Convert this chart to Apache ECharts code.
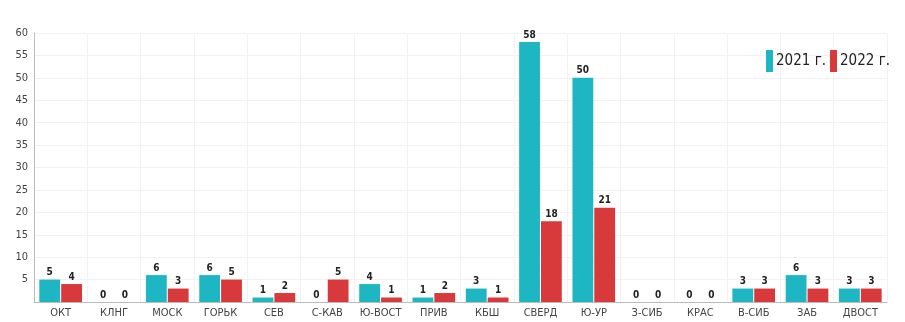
<!DOCTYPE html>
<html><head><meta charset="utf-8">
<script src="https://cdn.jsdelivr.net/npm/echarts@6/dist/echarts.min.js"></script>
<style>html,body{margin:0;padding:0;background:#fff}#c{width:905px;height:322px}</style>
</head><body><div id="c"></div>
<script>
const categories = ['ОКТ','КЛНГ','МОСК','ГОРЬК','СЕВ','С-КАВ','Ю-ВОСТ','ПРИВ','КБШ','СВЕРД','Ю-УР','З-СИБ','КРАС','В-СИБ','ЗАБ','ДВОСТ'];
const values2021 = [5,0,6,6,1,0,4,1,3,58,50,0,0,3,6,3];
const values2022 = [4,0,3,5,2,5,1,2,1,18,21,0,0,3,3,3];
const seriesNames = ['2021 г.','2022 г.'];
const yTicks = {min:0,max:60,interval:5};

const font = '"DejaVu Sans Condensed","Liberation Sans Narrow",sans-serif';
const chart = echarts.init(document.getElementById('c'));
const lbl = {show:true,position:'top',distance:2,fontFamily:font,fontWeight:'bold',fontSize:10,color:'#222'};
chart.setOption({
  animation:false,
  textStyle:{fontFamily:font},
  grid:{left:34,right:18,top:33,bottom:20},
  legend:{right:10,top:45,itemWidth:7,itemHeight:22,itemGap:4,icon:'rect',
    textStyle:{fontFamily:font,fontSize:15,color:'#222',padding:[0,0,0,-2]},
    data:seriesNames},
  xAxis:{type:'category',data:categories,
    axisLine:{lineStyle:{color:'#bbb'}},axisTick:{show:false},
    axisLabel:{interval:0,fontFamily:font,fontSize:11,color:'#444',margin:6},
    splitLine:{show:true,lineStyle:{color:'#f2f2f2'}}},
  yAxis:{type:'value',min:yTicks.min,max:yTicks.max,interval:yTicks.interval,
    axisLine:{show:true,lineStyle:{color:'#bbb'}},axisTick:{show:false},
    axisLabel:{fontFamily:font,fontSize:11,color:'#444',margin:6,formatter:v=>v===0?'':v},
    splitLine:{lineStyle:{color:'#f2f2f2'}}},
  series:[
    {name:seriesNames[0],type:'bar',data:values2021,barGap:'5%',barCategoryGap:'20%',
     itemStyle:{color:'#1fb6c3'},label:lbl},
    {name:seriesNames[1],type:'bar',data:values2022,
     itemStyle:{color:'#d8393a'},label:lbl}
  ]
});
</script></body></html>
